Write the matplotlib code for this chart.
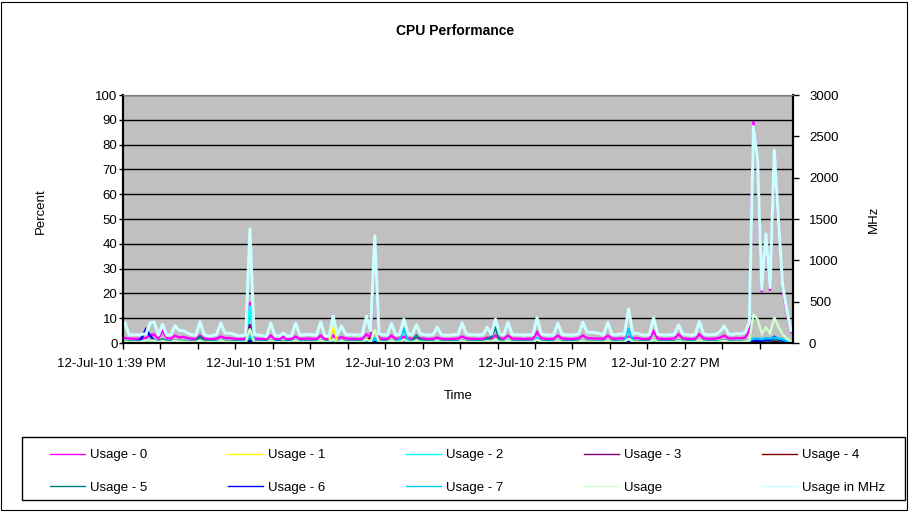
import numpy as np
import matplotlib
matplotlib.use("Agg")
import matplotlib.pyplot as plt
from matplotlib.patches import Rectangle

plt.rcParams['font.family'] = ['Liberation Sans', 'DejaVu Sans']

# samples every 20 s, 12-Jul-10 ~1:38 PM .. ~2:32 PM
time_labels = ['12-Jul-10 1:39 PM', '12-Jul-10 1:51 PM', '12-Jul-10 2:03 PM',
               '12-Jul-10 2:15 PM', '12-Jul-10 2:27 PM']

usage_0 = [
    2.0, 1.8, 1.7, 1.7, 1.8, 2.0, 3.2, 3.4, 1.8, 5.0,
    2.0, 1.7, 3.0, 2.2, 2.5, 2.0, 1.7, 1.6, 3.0, 1.8,
    1.6, 1.6, 1.8, 2.6, 2.0, 2.0, 1.8, 1.6, 1.6, 1.7,
    16.5, 1.8, 1.7, 1.6, 1.5, 3.0, 1.6, 1.5, 2.5, 1.5,
    1.6, 2.6, 1.7, 1.7, 1.8, 1.7, 1.6, 3.0, 1.6, 1.5,
    3.0, 1.7, 2.4, 1.8, 1.7, 1.7, 1.6, 1.7, 3.5, 2.2,
    42.0, 1.9, 1.7, 1.6, 3.0, 1.7, 1.8, 2.5, 1.9, 1.7,
    2.2, 1.9, 1.7, 1.6, 1.7, 2.2, 1.7, 1.6, 1.6, 1.7,
    1.8, 2.6, 1.9, 1.7, 1.7, 1.6, 1.7, 2.2, 1.8, 3.0,
    1.9, 1.7, 3.0, 1.8, 1.7, 1.7, 1.6, 1.7, 1.7, 4.4,
    1.9, 1.7, 1.6, 1.7, 3.0, 1.8, 1.7, 1.6, 1.7, 1.9,
    3.0, 2.0, 1.9, 1.8, 1.8, 1.7, 3.0, 1.8, 1.7, 1.9,
    1.8, 2.5, 1.9, 2.0, 1.7, 1.6, 1.7, 4.7, 1.8, 1.7,
    1.6, 1.7, 1.8, 3.5, 1.9, 1.7, 1.6, 1.7, 3.5, 1.9,
    1.7, 1.7, 1.8, 2.2, 3.0, 1.9, 1.8, 2.0, 1.9, 2.2,
    5.0, 89.5, 72.0, 20.5, 43.0, 21.0, 76.0, 48.0, 22.0, 12.0, 4.4]

usage_1 = [
    0.2, 0.2, 0.3, 0.2, 0.2, 0.3, 0.4, 0.3, 0.2, 0.3,
    0.2, 0.2, 0.3, 0.2, 0.2, 0.2, 0.3, 0.2, 0.3, 0.2,
    0.2, 0.2, 0.2, 0.3, 0.2, 0.2, 0.2, 0.2, 0.2, 0.3,
    1.5, 0.3, 0.2, 0.2, 0.2, 0.3, 0.2, 0.2, 0.2, 0.2,
    0.2, 0.3, 0.2, 0.2, 0.2, 0.2, 0.2, 0.3, 0.2, 0.5,
    7.0, 0.8, 0.4, 0.2, 0.2, 0.2, 0.2, 0.2, 0.4, 0.3,
    1.0, 0.3, 0.2, 0.2, 0.3, 0.2, 0.2, 0.3, 0.2, 0.2,
    0.3, 0.2, 0.2, 0.2, 0.2, 0.3, 0.2, 0.2, 0.2, 0.2,
    0.2, 0.3, 0.2, 0.2, 0.2, 0.2, 0.2, 0.3, 0.2, 0.3,
    0.2, 0.2, 0.3, 0.2, 0.2, 0.2, 0.2, 0.2, 0.2, 0.4,
    0.2, 0.2, 0.2, 0.2, 0.3, 0.2, 0.2, 0.2, 0.2, 0.2,
    0.3, 0.2, 0.2, 0.2, 0.2, 0.2, 0.3, 0.2, 0.2, 0.2,
    0.2, 0.4, 0.2, 0.2, 0.2, 0.2, 0.2, 0.3, 0.2, 0.2,
    0.2, 0.2, 0.2, 0.3, 0.2, 0.2, 0.2, 0.2, 0.3, 0.2,
    0.2, 0.2, 0.2, 0.2, 0.3, 0.2, 0.2, 0.2, 0.2, 0.2,
    0.3, 0.8, 0.6, 0.4, 0.5, 0.4, 0.7, 0.5, 0.4, 0.3, 0.2]

usage_2 = [
    0.3, 0.3, 0.3, 0.3, 0.3, 0.4, 0.5, 0.5, 0.3, 0.4,
    0.3, 0.3, 0.4, 0.3, 0.3, 0.3, 0.3, 0.3, 0.5, 0.3,
    0.3, 0.3, 0.3, 0.5, 0.3, 0.3, 0.3, 0.3, 0.3, 0.3,
    15.0, 0.4, 0.3, 0.3, 0.3, 0.5, 0.3, 0.3, 0.3, 0.3,
    0.3, 0.5, 0.3, 0.3, 0.3, 0.3, 0.3, 0.5, 0.3, 0.3,
    0.6, 0.3, 0.4, 0.3, 0.3, 0.3, 0.3, 0.3, 0.6, 0.4,
    2.0, 0.3, 0.3, 0.3, 0.5, 0.3, 0.3, 0.4, 0.3, 0.3,
    0.4, 0.3, 0.3, 0.3, 0.3, 0.4, 0.3, 0.3, 0.3, 0.3,
    0.3, 0.5, 0.3, 0.3, 0.3, 0.3, 0.3, 0.4, 0.3, 0.5,
    0.3, 0.3, 0.5, 0.3, 0.3, 0.3, 0.3, 0.3, 0.3, 0.6,
    0.3, 0.3, 0.3, 0.3, 0.5, 0.3, 0.3, 0.3, 0.3, 0.3,
    0.5, 0.4, 0.3, 0.3, 0.3, 0.3, 0.5, 0.3, 0.3, 0.3,
    0.3, 0.6, 0.3, 0.3, 0.3, 0.3, 0.3, 0.6, 0.3, 0.3,
    0.3, 0.3, 0.3, 0.4, 0.3, 0.3, 0.3, 0.3, 0.5, 0.3,
    0.3, 0.3, 0.3, 0.3, 0.4, 0.3, 0.3, 0.3, 0.3, 0.4,
    0.5, 1.2, 1.0, 0.6, 0.8, 0.6, 1.1, 0.8, 0.5, 0.4, 0.3]

usage_3 = [
    0.2, 0.2, 0.2, 0.2, 0.2, 0.3, 0.3, 0.3, 0.2, 0.3,
    0.2, 0.2, 0.3, 0.2, 0.2, 0.2, 0.2, 0.2, 0.3, 0.2,
    0.2, 0.2, 0.2, 0.3, 0.2, 0.2, 0.2, 0.2, 0.2, 0.2,
    7.5, 0.3, 0.2, 0.2, 0.2, 0.3, 0.2, 0.2, 0.2, 0.2,
    0.2, 0.3, 0.2, 0.2, 0.2, 0.2, 0.2, 0.3, 0.2, 0.2,
    0.4, 0.2, 0.3, 0.2, 0.2, 0.2, 0.2, 0.2, 0.4, 0.3,
    1.5, 0.2, 0.2, 0.2, 0.3, 0.2, 0.2, 0.3, 0.2, 0.2,
    0.3, 0.2, 0.2, 0.2, 0.2, 0.3, 0.2, 0.2, 0.2, 0.2,
    0.2, 0.3, 0.2, 0.2, 0.2, 0.2, 0.2, 0.3, 0.2, 0.3,
    0.2, 0.2, 0.3, 0.2, 0.2, 0.2, 0.2, 0.2, 0.2, 0.4,
    0.2, 0.2, 0.2, 0.2, 0.3, 0.2, 0.2, 0.2, 0.2, 0.2,
    0.3, 0.2, 0.2, 0.2, 0.2, 0.2, 0.3, 0.2, 0.2, 0.2,
    0.2, 0.4, 0.2, 0.2, 0.2, 0.2, 0.2, 0.4, 0.2, 0.2,
    0.2, 0.2, 0.2, 0.3, 0.2, 0.2, 0.2, 0.2, 0.3, 0.2,
    0.2, 0.2, 0.2, 0.2, 0.3, 0.2, 0.2, 0.2, 0.2, 0.2,
    0.3, 0.6, 0.5, 0.3, 0.4, 0.3, 0.6, 0.4, 0.3, 0.2, 0.2]

usage_4 = [
    0.3, 0.3, 0.3, 0.3, 0.3, 0.3, 0.4, 0.4, 0.3, 0.4,
    0.3, 0.3, 0.4, 0.3, 0.3, 0.3, 0.3, 0.3, 0.4, 0.3,
    0.3, 0.3, 0.3, 0.4, 0.3, 0.3, 0.3, 0.3, 0.3, 0.3,
    1.0, 0.3, 0.3, 0.3, 0.3, 0.4, 0.3, 0.3, 0.3, 0.3,
    0.3, 0.4, 0.3, 0.3, 0.3, 0.3, 0.3, 0.4, 0.3, 0.3,
    0.5, 0.3, 0.4, 0.3, 0.3, 0.3, 0.3, 0.3, 1.0, 2.0,
    1.0, 0.4, 0.3, 0.3, 0.4, 0.3, 0.3, 0.4, 0.3, 0.3,
    0.4, 0.3, 0.3, 0.3, 0.3, 0.4, 0.3, 0.3, 0.3, 0.3,
    0.3, 0.4, 0.3, 0.3, 0.3, 0.3, 0.3, 0.4, 0.3, 0.4,
    0.3, 0.3, 0.4, 0.3, 0.3, 0.3, 0.3, 0.3, 0.3, 0.5,
    0.3, 0.3, 0.3, 0.3, 0.4, 0.3, 0.3, 0.3, 0.3, 0.3,
    0.4, 0.3, 0.3, 0.3, 0.3, 0.3, 0.4, 0.3, 0.3, 0.3,
    0.3, 0.5, 0.3, 0.3, 0.3, 0.3, 0.3, 0.5, 0.3, 0.3,
    0.3, 0.3, 0.3, 0.4, 0.3, 0.3, 0.3, 0.3, 0.4, 0.3,
    0.3, 0.3, 0.3, 0.3, 0.4, 0.3, 0.3, 0.3, 0.3, 0.3,
    0.3, 0.6, 0.5, 0.4, 0.5, 0.4, 0.6, 0.5, 0.5, 0.3, 0.2]

usage_5 = [
    0.8, 0.7, 0.7, 0.7, 0.8, 0.8, 1.0, 1.0, 0.7, 1.5,
    0.8, 0.7, 1.0, 0.8, 0.9, 0.8, 0.7, 0.7, 2.5, 0.8,
    0.7, 0.7, 0.7, 1.0, 0.8, 0.8, 0.7, 0.7, 0.7, 0.7,
    2.0, 0.8, 0.7, 0.7, 0.7, 1.0, 0.7, 0.7, 0.8, 0.7,
    0.7, 1.0, 0.7, 0.7, 0.7, 0.7, 0.7, 1.0, 0.7, 0.7,
    1.0, 0.7, 0.9, 0.7, 0.7, 0.7, 0.7, 0.7, 1.0, 0.8,
    1.5, 0.8, 0.7, 0.7, 1.0, 0.7, 0.7, 0.9, 0.8, 0.9,
    3.0, 1.2, 0.8, 0.7, 0.7, 0.9, 0.7, 0.7, 0.7, 0.7,
    0.7, 1.0, 0.8, 0.7, 0.7, 0.7, 0.7, 1.5, 2.5, 6.5,
    1.0, 0.7, 1.0, 0.7, 0.7, 0.7, 0.7, 0.7, 0.7, 1.2,
    0.8, 0.7, 0.7, 0.7, 1.0, 0.7, 0.7, 0.7, 0.7, 0.8,
    1.0, 0.8, 0.8, 0.7, 0.7, 0.7, 1.0, 0.7, 0.7, 0.8,
    0.7, 1.0, 0.8, 0.8, 0.7, 0.7, 0.7, 1.2, 0.7, 0.7,
    0.7, 0.7, 0.7, 1.0, 0.8, 0.7, 0.7, 0.7, 1.0, 0.8,
    0.7, 0.7, 0.7, 0.8, 1.0, 0.8, 0.7, 0.8, 0.8, 0.8,
    0.9, 1.5, 1.3, 0.9, 1.1, 0.9, 1.4, 1.1, 0.9, 0.6, 0.4]

usage_6 = [
    0.3, 0.3, 0.3, 0.4, 2.0, 5.5, 3.0, 1.0, 0.3, 0.4,
    0.3, 0.3, 0.4, 0.3, 0.3, 0.3, 0.3, 0.3, 0.4, 0.3,
    0.3, 0.3, 0.3, 0.4, 0.3, 0.3, 0.3, 0.3, 0.3, 0.3,
    0.6, 0.3, 0.3, 0.3, 0.3, 0.4, 0.3, 0.3, 0.3, 0.3,
    0.3, 0.4, 0.3, 0.3, 0.3, 0.3, 0.3, 0.4, 0.3, 0.3,
    0.4, 0.3, 0.3, 0.3, 0.3, 0.3, 0.3, 0.3, 0.4, 0.3,
    0.6, 0.3, 0.3, 0.3, 0.4, 0.3, 0.3, 0.6, 0.3, 0.3,
    0.4, 0.3, 0.3, 0.3, 0.3, 0.4, 0.3, 0.3, 0.3, 0.3,
    0.3, 0.4, 0.3, 0.3, 0.3, 0.3, 0.3, 0.4, 0.3, 0.6,
    0.3, 0.3, 0.4, 0.3, 0.3, 0.3, 0.3, 0.3, 0.3, 0.6,
    0.3, 0.3, 0.3, 0.3, 0.4, 0.3, 0.3, 0.3, 0.3, 0.3,
    0.4, 0.3, 0.3, 0.3, 0.3, 0.3, 0.4, 0.3, 0.3, 0.3,
    0.3, 0.5, 0.3, 0.3, 0.3, 0.3, 0.3, 0.4, 0.3, 0.3,
    0.3, 0.3, 0.3, 0.4, 0.3, 0.3, 0.3, 0.3, 0.4, 0.3,
    0.3, 0.3, 0.3, 0.3, 0.4, 0.3, 0.3, 0.3, 0.3, 0.3,
    0.5, 1.2, 1.0, 0.8, 1.5, 1.2, 2.5, 1.5, 1.0, 0.6, 0.3]

usage_7 = [
    0.5, 0.4, 0.4, 0.4, 0.4, 0.5, 0.6, 0.6, 0.4, 0.5,
    0.4, 0.4, 0.5, 0.4, 0.4, 0.4, 0.4, 0.4, 0.6, 0.4,
    0.4, 0.4, 0.4, 0.6, 0.4, 0.4, 0.4, 0.4, 0.4, 0.4,
    3.0, 0.5, 0.4, 0.4, 0.4, 0.6, 0.4, 0.4, 0.4, 0.4,
    0.4, 0.6, 0.4, 0.4, 0.4, 0.4, 0.4, 0.6, 0.4, 0.4,
    0.6, 0.4, 0.5, 0.4, 0.4, 0.4, 0.4, 0.4, 0.6, 0.5,
    1.5, 0.4, 0.4, 0.4, 0.6, 0.4, 1.5, 6.0, 0.8, 0.4,
    0.5, 0.4, 0.4, 0.4, 0.4, 0.5, 0.4, 0.4, 0.4, 0.4,
    0.4, 0.6, 0.4, 0.4, 0.4, 0.4, 0.4, 0.5, 0.4, 0.6,
    0.4, 0.4, 0.6, 0.4, 0.4, 0.4, 0.4, 0.4, 0.4, 2.0,
    0.5, 0.4, 0.4, 0.4, 0.6, 0.4, 0.4, 0.4, 0.4, 0.4,
    0.6, 0.5, 0.4, 0.4, 0.4, 0.4, 0.6, 0.4, 0.4, 0.4,
    0.4, 6.0, 0.6, 0.4, 0.4, 0.4, 0.4, 0.8, 0.4, 0.4,
    0.4, 0.4, 0.4, 0.5, 0.4, 0.4, 0.4, 0.4, 0.6, 0.4,
    0.4, 0.4, 0.4, 0.4, 0.5, 0.4, 0.4, 0.4, 0.4, 0.5,
    0.8, 1.8, 1.8, 1.5, 2.0, 1.8, 2.2, 1.8, 1.5, 0.8, 0.4]

usage_avg = [
    0.6, 0.4, 0.4, 0.4, 0.6, 1.0, 1.0, 1.0, 0.4, 0.9,
    0.4, 0.4, 0.9, 0.6, 0.6, 0.5, 0.4, 0.4, 1.0, 0.4,
    0.4, 0.4, 0.4, 1.0, 0.5, 0.5, 0.4, 0.4, 0.4, 0.4,
    5.8, 0.4, 0.4, 0.4, 0.3, 1.0, 0.4, 0.3, 0.5, 0.3,
    0.4, 1.0, 0.4, 0.4, 0.4, 0.4, 0.4, 1.0, 0.4, 0.4,
    1.4, 0.4, 0.8, 0.4, 0.4, 0.4, 0.4, 0.4, 1.4, 0.6,
    5.4, 0.5, 0.4, 0.4, 1.0, 0.4, 0.4, 1.2, 0.5, 0.4,
    0.9, 0.5, 0.4, 0.4, 0.4, 0.8, 0.4, 0.4, 0.4, 0.4,
    0.4, 1.0, 0.5, 0.4, 0.4, 0.4, 0.4, 0.8, 0.4, 1.2,
    0.5, 0.4, 1.0, 0.4, 0.4, 0.4, 0.4, 0.4, 0.4, 1.3,
    0.5, 0.4, 0.4, 0.4, 1.0, 0.4, 0.4, 0.4, 0.4, 0.5,
    1.0, 0.5, 0.5, 0.5, 0.5, 0.4, 1.0, 0.4, 0.4, 0.5,
    0.4, 1.7, 0.5, 0.5, 0.4, 0.4, 0.4, 1.3, 0.4, 0.4,
    0.4, 0.4, 0.4, 0.9, 0.5, 0.4, 0.4, 0.4, 1.1, 0.5,
    0.4, 0.4, 0.4, 0.6, 0.9, 0.5, 0.4, 0.5, 0.5, 0.6,
    1.0, 11.6, 9.5, 3.8, 6.2, 3.9, 10.4, 6.5, 3.6, 1.8, 0.6]

usage_mhz = [
    240, 95, 100, 100, 105, 110, 240, 255, 95, 225,
    95, 100, 210, 150, 150, 120, 100, 95, 255, 105,
    85, 90, 105, 240, 120, 120, 110, 90, 90, 95,
    1380, 105, 95, 90, 80, 240, 90, 80, 120, 80,
    90, 240, 95, 100, 105, 100, 95, 255, 90, 80,
    325, 100, 205, 105, 100, 100, 95, 100, 325, 150,
    1295, 110, 100, 95, 235, 100, 105, 290, 110, 100,
    220, 110, 100, 95, 100, 190, 100, 95, 95, 100,
    105, 240, 110, 100, 100, 95, 100, 190, 105, 290,
    110, 100, 250, 105, 100, 100, 95, 100, 100, 305,
    110, 100, 95, 100, 240, 105, 100, 95, 100, 110,
    250, 130, 130, 125, 115, 100, 250, 105, 100, 110,
    105, 410, 110, 120, 100, 95, 100, 305, 105, 100,
    95, 100, 105, 220, 110, 100, 95, 100, 260, 110,
    100, 100, 105, 140, 205, 110, 105, 115, 110, 130,
    250, 2620, 2200, 650, 1320, 670, 2330, 1480, 700, 400, 150]

series = [
    ('Usage - 0', usage_0, '#FF00FF'),
    ('Usage - 1', usage_1, '#FFFF00'),
    ('Usage - 2', usage_2, '#00FFFF'),
    ('Usage - 3', usage_3, '#800080'),
    ('Usage - 4', usage_4, '#800000'),
    ('Usage - 5', usage_5, '#008080'),
    ('Usage - 6', usage_6, '#0000FF'),
    ('Usage - 7', usage_7, '#00CCFF'),
    ('Usage', usage_avg, '#CCFFCC'),
]

FS = 9.5
W, H = 909, 512
fig = plt.figure(figsize=(W / 100, H / 100), dpi=100)
fig.patches.append(Rectangle((1 / W, 2 / H), 906 / W, 508 / H, transform=fig.transFigure,
                             fill=False, edgecolor='black', lw=0.8))

ax = fig.add_axes([123 / W, 1 - 343 / H, 670 / W, 248 / H])
ax.set_facecolor('#C0C0C0')
ax2 = ax.twinx()

handles = []
for name, vals, col in series:
    ln, = ax.plot(np.arange(len(vals)), vals, color=col, lw=1.7, label=name,
                  solid_joinstyle='miter')
    handles.append(ln)
ln, = ax2.plot(np.arange(len(usage_mhz)), usage_mhz, color='#CCFFFF', lw=2.2,
               label='Usage in MHz')
handles.append(ln)

n = len(usage_mhz)
ax.set_xlim(-0.5, n - 0.5)
ax.set_ylim(0, 100)
ax2.set_ylim(0, 3000)
ax.set_yticks(range(0, 101, 10))
ax2.set_yticks(range(0, 3001, 500))
ax.set_xticks(np.arange(-0.5, n, 9))
ax.set_xticklabels([])
ax.yaxis.grid(True, color='black', lw=1)
ax.set_axisbelow(True)

# category labels (Excel skips, offset to left of ticks)
label_pos = [-3.2, 32.6, 65.8, 98.0, 129.8]
for xp, txt in zip(label_pos, time_labels):
    ax.text(xp, -0.085, txt, transform=ax.get_xaxis_transform(), ha='center', va='center',
            fontsize=FS, clip_on=False)

ax.tick_params(axis='x', direction='out', length=4, width=1)
ax.tick_params(axis='y', direction='out', length=3, width=1, labelsize=FS, pad=1)
ax2.tick_params(axis='y', direction='out', length=4, width=1, labelsize=FS, pad=7.5)
for a in (ax, ax2):
    a.spines['top'].set_color('#808080')
    a.spines['left'].set_linewidth(1.5)
    a.spines['bottom'].set_linewidth(1.5)
    a.spines['right'].set_linewidth(1.5)

ax.set_ylabel('Percent', fontsize=FS)
ax.yaxis.set_label_coords((47 - 123) / 670, 0.53)
ax2.set_ylabel('MHz', fontsize=FS)
ax2.yaxis.set_label_coords((868 - 123) / 670, 0.5)
ax.set_xlabel('Time', fontsize=FS)
ax.xaxis.set_label_coords((458 - 123) / 670, (343 - 390) / 248)

fig.text(455 / W, 1 - 31 / H, 'CPU Performance', ha='center', va='center',
         fontsize=10, fontweight='bold')

# legend: row-wise order in 5 columns
order = [0, 5, 1, 6, 2, 7, 3, 8, 4, 9]
fig.patches.append(Rectangle((22 / W, 1 - 500 / H), 883 / W, 63 / H, transform=fig.transFigure,
                             fill=False, edgecolor='black', lw=1))
leg = fig.legend([handles[i] for i in order], [handles[i].get_label() for i in order],
                 loc='upper left', bbox_to_anchor=(50 / W, 0.0, 835 / W, 1 - 449 / H),
                 mode='expand', ncol=5, frameon=False, fontsize=FS, borderpad=0,
                 borderaxespad=0, handlelength=2.65, handletextpad=0.4, labelspacing=1.55)
for l in leg.get_lines():
    l.set_linewidth(1.0)

fig.savefig('out.png', dpi=100)
